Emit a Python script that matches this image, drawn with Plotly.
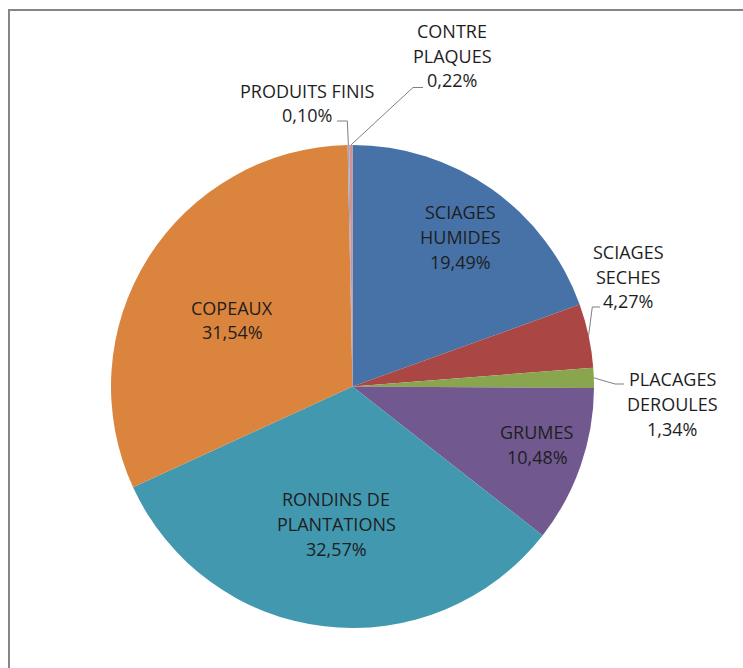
import math
import plotly.graph_objects as go

# Volume shares by product type (clockwise from 12 o'clock)
categories = ["SCIAGES HUMIDES", "SCIAGES SECHES", "PLACAGES DEROULES", "GRUMES",
              "RONDINS DE PLANTATIONS", "COPEAUX", "PRODUITS FINIS", "CONTRE PLAQUES"]
shares = [19.49, 4.27, 1.34, 10.48, 32.57, 31.54, 0.10, 0.22]
label_lines = [["SCIAGES", "HUMIDES"], ["SCIAGES", "SECHES"], ["PLACAGES", "DEROULES"],
               ["GRUMES"], ["RONDINS DE", "PLANTATIONS"], ["COPEAUX"],
               ["PRODUITS FINIS"], ["CONTRE", "PLAQUES"]]
colors = ["#4672A8", "#AA4744", "#89A54E", "#71588F", "#4298AF", "#DB843D", "#93A9CF", "#D19392"]

W, H = 743, 668
CX, CY, R = 352.5, 386.5, 241.5       # pie centre and radius in pixels
LINE_H = 24.8                          # spacing between label lines
TEXT_COLOR = "#1E1E1E"
FONT = "Open Sans"
FS = 18

# label block centres (pixels) and leader-line elbows for the outside labels
label_centres = {
    0: (460, 237), 1: (628, 276.5), 2: (672, 404), 3: (537, 444.5),
    4: (336, 524), 5: (232, 320), 6: (307, 103), 7: (452, 55.5),
}
leaders = {
    1: [(592.3, 307), (600, 307)],
    2: [(615, 384), (624, 384)],
    6: [(347.3, 121), (337, 121)],
    7: [(413, 87.5), (423, 87.5)],
}


def px(x):
    return x / W


def py(y):
    return 1 - y / H


fig = go.Figure(go.Pie(
    labels=categories, values=shares, sort=False, direction="clockwise", rotation=0,
    marker=dict(colors=colors, line=dict(width=0)),
    textinfo="none", hoverinfo="label+percent", showlegend=False,
    domain=dict(x=[px(CX - R), px(CX + R)], y=[py(CY + R), py(CY - R)]),
))

annotations = []
shapes = []
total = sum(shares)
cum = 0.0
for i, v in enumerate(shares):
    mid = (cum + v / 2) / total * 2 * math.pi
    cum += v
    lines = label_lines[i] + [f"{v:.2f}%".replace(".", ",")]
    lx, ly = label_centres[i]
    n = len(lines)
    for j, t in enumerate(lines):
        yy = ly + (j - (n - 1) / 2) * LINE_H
        annotations.append(dict(
            x=px(lx), y=py(yy), xref="paper", yref="paper", text=t, showarrow=False,
            xanchor="center", yanchor="middle",
            font=dict(family=FONT, size=FS, color=TEXT_COLOR),
        ))
    if i in leaders:
        ex = CX + R * math.sin(mid)
        ey = CY - R * math.cos(mid)
        pts = [(ex, ey)] + leaders[i]
        path = "M " + " L ".join(f"{px(a)},{py(b)}" for a, b in pts)
        shapes.append(dict(type="path", xref="paper", yref="paper", path=path,
                           line=dict(color="#7F7F7F", width=1)))

# chart frame (left and top edges)
shapes.append(dict(type="line", xref="paper", yref="paper", x0=px(9), x1=px(9), y0=py(9), y1=py(700),
                   line=dict(color="#868686", width=2)))
shapes.append(dict(type="line", xref="paper", yref="paper", x0=px(8), x1=px(760), y0=py(10), y1=py(10),
                   line=dict(color="#868686", width=2)))

fig.update_layout(
    width=W, height=H, margin=dict(l=0, r=0, t=0, b=0),
    paper_bgcolor="white", plot_bgcolor="white",
    annotations=annotations, shapes=shapes,
)

fig.write_html("out.html")
